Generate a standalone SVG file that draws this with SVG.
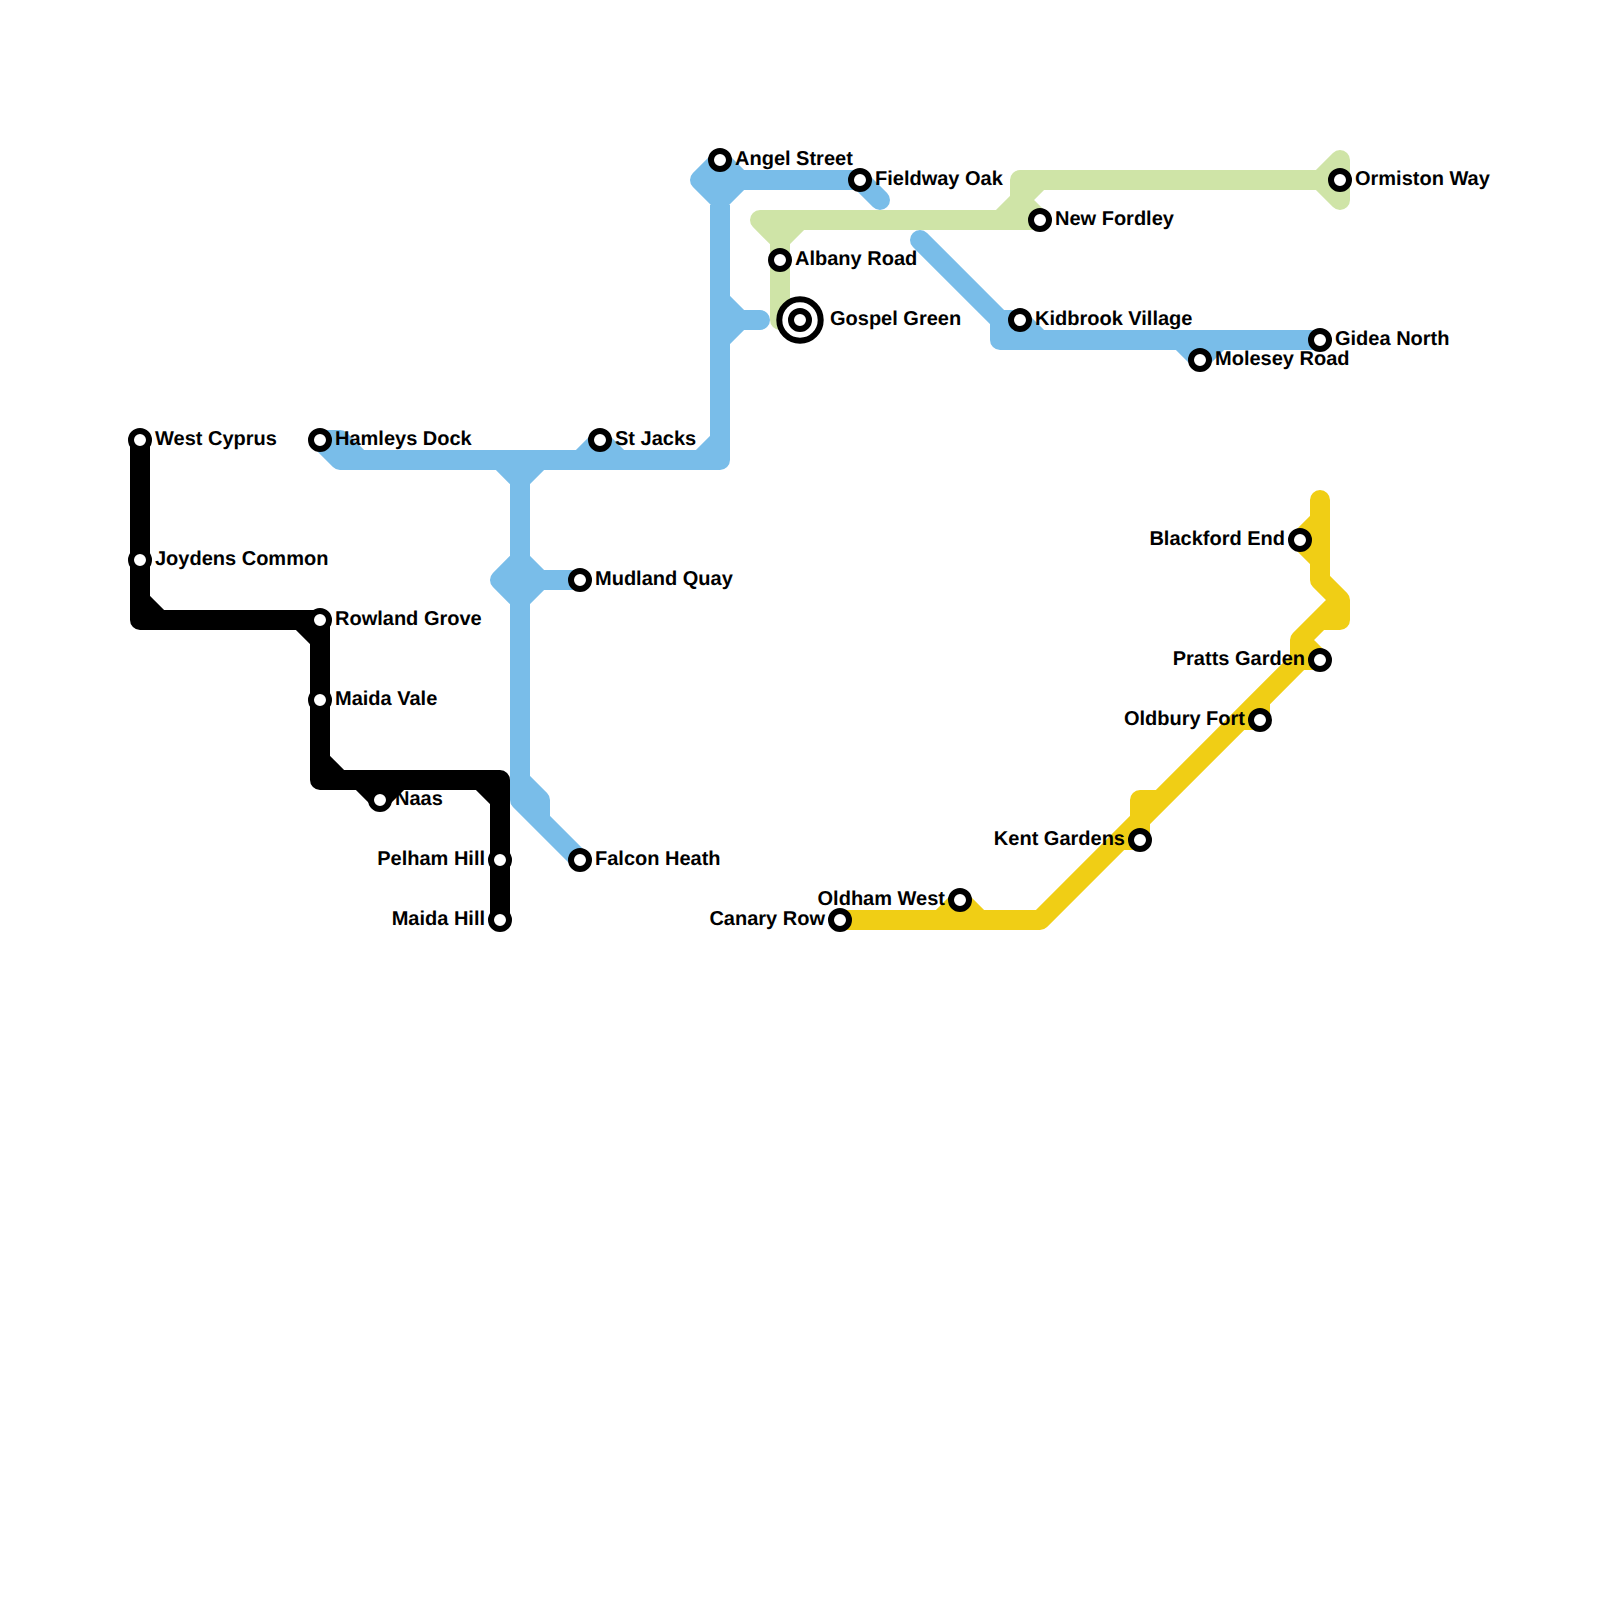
<svg xmlns="http://www.w3.org/2000/svg" width="1600" height="1600" viewBox="0 0 1600 1600">
<style>
.l{fill:none;stroke-width:20;stroke-linecap:round;stroke-linejoin:round}
.blue{stroke:#79bde9}.green{stroke:#cfe4a7}.yellow{stroke:#f0ce15}.black{stroke:#000}
.s{fill:#fff;stroke:#000;stroke-width:6}
text{font-family:"Liberation Sans",Arial,sans-serif;font-weight:700;font-size:20px;fill:#000;text-rendering:geometricPrecision}
.e{text-anchor:end}
</style>
<rect width="1600" height="1600" fill="#fff"/>
<g id="connectors">
<path id="line-blue" class="l blue" d="M320 440L340 460H720V180M320 440H340L360 460M580 460L600 440L620 460M700 460L720 440M500 460L520 480L540 460M520 460V800M500 580L520 560L540 580L520 600ZM520 580H580M520 780L540 800V820L580 860M520 800L580 860M720 160L700 180L720 200L740 180ZM720 180H860L880 200M720 300L740 320L720 340M720 320H760M920 240L1000 320V340H1320M1000 320H1020L1040 340M1180 340L1200 360L1220 340"/>
<path id="line-green" class="l green" d="M780 320V240L760 220H1040M780 240L800 220M1000 220L1020 200V180H1320M1020 200L1040 220M1020 200L1040 180M1320 180L1340 160V200L1320 180"/>
<path id="line-yellow" class="l yellow" d="M840 920H1040L1300 660M940 920L960 900L980 920M1120 840H1140V800H1160M1240 720H1260V700M1300 660H1320L1300 640V660M1300 640L1340 600V620H1320L1300 640M1320 500V580L1340 600M1320 520L1300 540L1320 560"/>
<path id="line-black" class="l black" d="M140 440V620H320V780H500V920M140 600L160 620M300 620L320 640M320 760L340 780M360 780L380 800L400 780M480 780L500 800"/>
</g>
<g id="west-cyprus"><text x="155" y="445">West Cyprus</text><circle class="s" cx="140" cy="440" r="9"/></g>
<g id="joydens-common"><text x="155" y="565">Joydens Common</text><circle class="s" cx="140" cy="560" r="9"/></g>
<g id="rowland-grove"><text x="335" y="625">Rowland Grove</text><circle class="s" cx="320" cy="620" r="9"/></g>
<g id="maida-vale"><text x="335" y="705">Maida Vale</text><circle class="s" cx="320" cy="700" r="9"/></g>
<g id="naas"><text x="395" y="805">Naas</text><circle class="s" cx="380" cy="800" r="9"/></g>
<g id="pelham-hill"><text class="e" x="485" y="865">Pelham Hill</text><circle class="s" cx="500" cy="860" r="9"/></g>
<g id="maida-hill"><text class="e" x="485" y="925">Maida Hill</text><circle class="s" cx="500" cy="920" r="9"/></g>
<g id="hamleys-dock"><text x="335" y="445">Hamleys Dock</text><circle class="s" cx="320" cy="440" r="9"/></g>
<g id="st-jacks"><text x="615" y="445">St Jacks</text><circle class="s" cx="600" cy="440" r="9"/></g>
<g id="mudland-quay"><text x="595" y="585">Mudland Quay</text><circle class="s" cx="580" cy="580" r="9"/></g>
<g id="falcon-heath"><text x="595" y="865">Falcon Heath</text><circle class="s" cx="580" cy="860" r="9"/></g>
<g id="angel-street"><text x="735" y="165">Angel Street</text><circle class="s" cx="720" cy="160" r="9"/></g>
<g id="fieldway-oak"><text x="875" y="185">Fieldway Oak</text><circle class="s" cx="860" cy="180" r="9"/></g>
<g id="albany-road"><text x="795" y="265">Albany Road</text><circle class="s" cx="780" cy="260" r="9"/></g>
<g id="gospel-green"><text x="830" y="325">Gospel Green</text><circle class="s" cx="800" cy="320" r="20.7"/><circle class="s" cx="800" cy="320" r="9"/></g>
<g id="new-fordley"><text x="1055" y="225">New Fordley</text><circle class="s" cx="1040" cy="220" r="9"/></g>
<g id="ormiston-way"><text x="1355" y="185">Ormiston Way</text><circle class="s" cx="1340" cy="180" r="9"/></g>
<g id="kidbrook-village"><text x="1035" y="325">Kidbrook Village</text><circle class="s" cx="1020" cy="320" r="9"/></g>
<g id="gidea-north"><text x="1335" y="345">Gidea North</text><circle class="s" cx="1320" cy="340" r="9"/></g>
<g id="molesey-road"><text x="1215" y="365">Molesey Road</text><circle class="s" cx="1200" cy="360" r="9"/></g>
<g id="blackford-end"><text class="e" x="1285" y="545">Blackford End</text><circle class="s" cx="1300" cy="540" r="9"/></g>
<g id="pratts-garden"><text class="e" x="1305" y="665">Pratts Garden</text><circle class="s" cx="1320" cy="660" r="9"/></g>
<g id="oldbury-fort"><text class="e" x="1245" y="725">Oldbury Fort</text><circle class="s" cx="1260" cy="720" r="9"/></g>
<g id="kent-gardens"><text class="e" x="1125" y="845">Kent Gardens</text><circle class="s" cx="1140" cy="840" r="9"/></g>
<g id="oldham-west"><text class="e" x="945" y="905">Oldham West</text><circle class="s" cx="960" cy="900" r="9"/></g>
<g id="canary-row"><text class="e" x="825" y="925">Canary Row</text><circle class="s" cx="840" cy="920" r="9"/></g>
</svg>
